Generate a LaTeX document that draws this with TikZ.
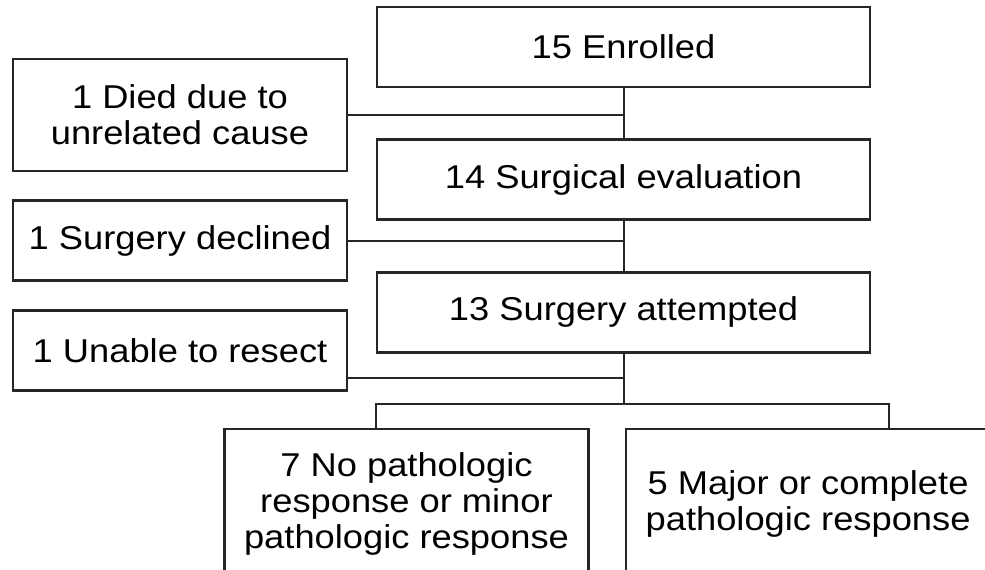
\documentclass[tikz,border=0pt]{standalone}
\usepackage{fontspec}
\setmainfont{Liberation Sans}[FakeStretch=1.1]
\usetikzlibrary{positioning, calc}

\begin{document}
\begin{tikzpicture}[
    x=0.5pt, y=-0.5pt,
    node distance=25pt and 15pt,
    box/.style={
        draw=black!85,
        fill=white,
        align=center,
        inner sep=0pt,
        minimum width=246.5pt,
        minimum height=40pt,
        font=\fontsize{16.5}{18}\selectfont,
        line width=1.3pt
    },
    side/.style={
        box,
        minimum width=167pt
    },
    result/.style={
        box,
        minimum width=182pt,
        minimum height=75pt
    },
    link/.style={
        draw=black!85,
        line width=1pt
    }
]
\clip (0,0) rectangle (985,569);

% Nodes
\node (enrolled) [box] at (623.5,47) {15 Enrolled};
\node (evaluation) [box, below=of enrolled] {14 Surgical evaluation};
\node (attempted) [box, below=of evaluation] {13 Surgery attempted};

\node (died) [side, minimum height=56pt] at (180,115) {1 Died due to\\unrelated cause};
\node (declined) [side, below=13.5pt of died] {1 Surgery declined};
\node (unable) [side, below=13.5pt of declined] {1 Unable to resect};

\node (nopr) [result] at (406.5,504) {7 No pathologic\\response or minor\\pathologic response};
\node (major) [result, right=17.5pt of nopr] {5 Major or complete\\pathologic response};

\coordinate (split) at ([yshift=-25pt]attempted.south);
\coordinate (ua) at ([yshift=7pt]unable.south east);
\coordinate (bl) at ([xshift=-15.25pt]nopr.north);
\coordinate (br) at ([xshift=40.5pt]major.north);

% Paths
\draw [link] (enrolled) -- (evaluation);
\draw [link] (evaluation) -- (attempted);
\draw [link] (attempted) -- (split);
\draw [link] (died.east) -- (died.east -| enrolled.south);
\draw [link] (declined.east) -- (declined.east -| evaluation.south);
\draw [link] (ua) -- (ua -| attempted.south);
\draw [link] (bl) |- (split) -| (br);

\end{tikzpicture}
\end{document}
